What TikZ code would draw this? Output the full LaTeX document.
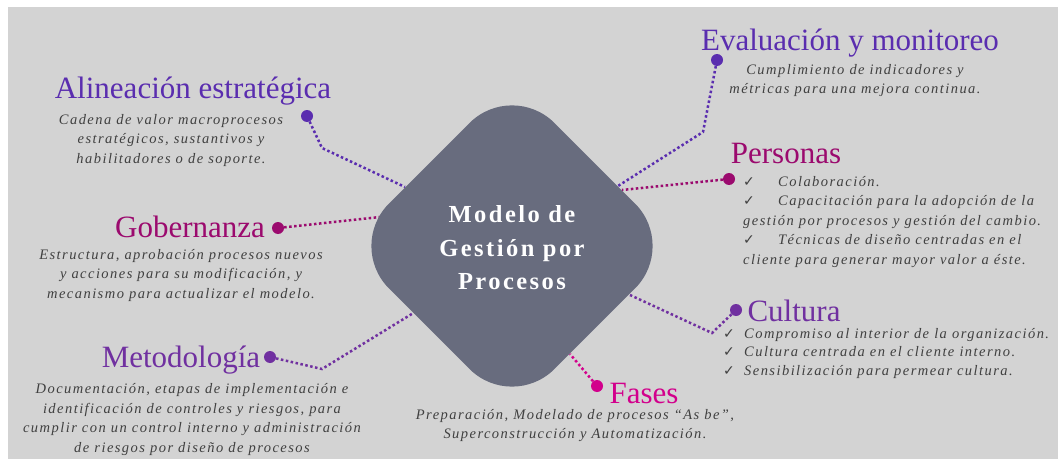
\documentclass[tikz,border=0pt]{standalone}
\usepackage{fontspec}
\setmainfont{Liberation Serif}
\newfontfamily\descfont[LetterSpace=10]{Liberation Serif}
\newfontfamily\centrofont[LetterSpace=10]{Liberation Serif}
\newfontfamily\simbolos{DejaVu Sans}
\usetikzlibrary{shapes,arrows,positioning}

\definecolor{fondo}{RGB}{211,211,211}
\definecolor{gristexto}{RGB}{64,64,64}
\definecolor{grisrombo}{RGB}{104,108,126}
\definecolor{indigo}{RGB}{90,45,175}
\definecolor{vino}{RGB}{155,10,110}
\definecolor{morado}{RGB}{112,48,160}
\definecolor{fucsia}{RGB}{210,0,140}

\newcommand{\marca}[1]{\makebox[#1][l]{\simbolos\fontsize{14}{14}\selectfont ✓}}

\tikzstyle{titulo} = [anchor=base, inner sep=0pt, font=\fontsize{31}{31}\selectfont]
\tikzstyle{desc} = [anchor=base, inner sep=0pt, align=center, text=gristexto, font=\descfont\itshape\fontsize{14.5}{19.5}\selectfont]
\tikzstyle{lista} = [desc, anchor=base west, align=left]
\tikzstyle{punto} = [circle, inner sep=0pt, minimum size=12pt]
\tikzstyle{line} = [draw, dash pattern=on 2.5pt off 2.5pt, line width=2.5pt]
\tikzstyle{rombo} = [rectangle, rotate=45, minimum size=234pt, rounded corners=60pt, fill=grisrombo, inner sep=0pt]

\begin{document}
\begin{tikzpicture}[x=1pt, y=1pt]
	\useasboundingbox (0,0) rectangle (1058,459);
	\fill[fondo] (8,0) rectangle (1058,452);

	% titulos
	\node[titulo, text=indigo] (ali) at (193,360) {Alineación estratégica};
	\node[titulo, text=vino] (gob) at (190,222) {Gobernanza};
	\node[titulo, text=morado] (met) at (181,92) {Metodología};
	\node[titulo, text=indigo] (eval) at (850,408) {Evaluación y monitoreo};
	\node[titulo, text=vino] (pers) at (786,296) {Personas};
	\node[titulo, text=morado] (cult) at (794,138) {Cultura};
	\node[titulo, text=fucsia] (fases) at (644,56) {Fases};

	% descripciones (base = ultima linea)
	\node[desc] (aliDesc) at (171,296) {Cadena de valor macroprocesos\\estratégicos, sustantivos y\\habilitadores o de soporte.};
	\node[desc] (gobDesc) at (181,161) {Estructura, aprobación procesos nuevos\\y acciones para su modificación, y\\mecanismo para actualizar el modelo.};
	\node[desc] (metDesc) at (192,7) {Documentación, etapas de implementación e\\identificación de controles y riesgos, para\\cumplir con un control interno y administración\\de riesgos por diseño de procesos};
	\node[desc] (evalDesc) at (855,365) {Cumplimiento de indicadores y\\métricas para una mejora continua.};
	\node[lista] (persDesc) at (743,195) {\marca{35pt}Colaboración.\\\marca{35pt}Capacitación para la adopción de la\\gestión por procesos y gestión del cambio.\\\marca{35pt}Técnicas de diseño centradas en el\\cliente para generar mayor valor a éste.};
	\node[lista, font=\descfont\itshape\fontsize{14.5}{18.5}\selectfont] (cultDesc) at (723,84) {\marca{21pt}Compromiso al interior de la organización.\\\marca{21pt}Cultura centrada en el cliente interno.\\\marca{21pt}Sensibilización para permear cultura.};
	\node[desc, font=\descfont\itshape\fontsize{14.5}{18.5}\selectfont] (fasesDesc) at (575,21) {Preparación, Modelado de procesos “As be”,\\Superconstrucción y Automatización.};

	% puntos
	\node[punto, fill=indigo] (pAli) at (307,343) {};
	\node[punto, fill=vino] (pGob) at (278,231) {};
	\node[punto, fill=morado] (pMet) at (270,102) {};
	\node[punto, fill=indigo] (pEval) at (717,399) {};
	\node[punto, fill=vino] (pPers) at (729,280) {};
	\node[punto, fill=morado] (pCult) at (736,149) {};
	\node[punto, fill=fucsia] (pFases) at (597,73) {};

	\coordinate (codoAli) at (322,311);
	\coordinate (finAli) at (405,272);
	\coordinate (finGob) at (380,242);
	\coordinate (codoMet) at (322,90);
	\coordinate (finMet) at (415,147);
	\coordinate (codoEval) at (703,327);
	\coordinate (finEval) at (618,273);
	\coordinate (finPers) at (622,269);
	\coordinate (codoCult) at (712,126);
	\coordinate (finCult) at (630,164);
	\coordinate (finFases) at (570,105);

	\path [line, indigo] (pAli) -- (codoAli) -- (finAli);
	\path [line, vino] (pGob) -- (finGob);
	\path [line, morado] (pMet) -- (codoMet) -- (finMet);
	\path [line, indigo] (pEval) -- (codoEval) -- (finEval);
	\path [line, vino] (pPers) -- (finPers);
	\path [line, morado] (pCult) -- (codoCult) -- (finCult);
	\path [line, fucsia] (pFases) -- (finFases);

	% centro
	\node[rombo] (rombo) at (512,213) {};
	\node[align=center, text=white, font=\centrofont\bfseries\fontsize{24.5}{33.5}\selectfont] (centro) at (512,211) {Modelo de\\Gestión por\\Procesos};
\end{tikzpicture}
\end{document}
